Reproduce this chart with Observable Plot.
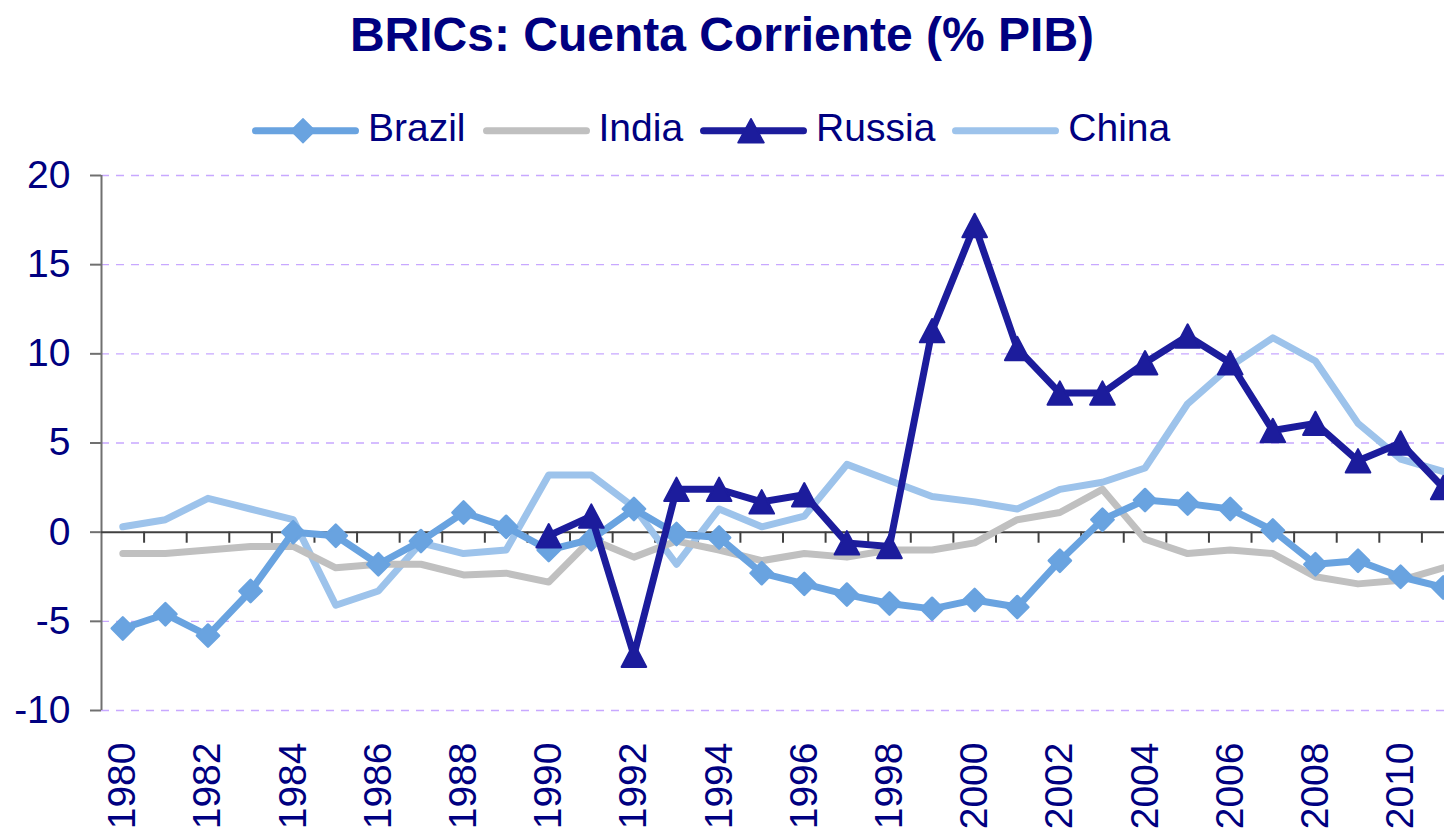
<!DOCTYPE html>
<html>
<head>
<meta charset="utf-8">
<script src="https://cdn.jsdelivr.net/npm/d3@7"></script>
<script src="https://cdn.jsdelivr.net/npm/@observablehq/plot@0.6"></script>
<style>
  html, body { margin: 0; padding: 0; background: #fff; overflow: hidden; }
  body { width: 1444px; height: 830px; font-family: "Liberation Sans", Arial, sans-serif; color: #000080; }
  #title { height: 70px; line-height: 70px; text-align: center; font-size: 48px; font-weight: bold; white-space: nowrap; }
  #legend { position: relative; height: 70px; }
  #legend .row { position: absolute; top: 38px; left: 252px; display: flex; white-space: nowrap; }
  #legend .lab { font-size: 39px; line-height: 40px; margin-left: 9px; margin-right: 17px; }
  #legend svg { display: block; }
</style>
</head>
<body>
<div id="title">BRICs: Cuenta Corriente (% PIB)</div>
<div id="legend"><div class="row" id="legrow"></div></div>
<div id="chart"></div>
<script>
// ---- data ----
const years = [1980,1981,1982,1983,1984,1985,1986,1987,1988,1989,1990,1991,1992,1993,1994,1995,
               1996,1997,1998,1999,2000,2001,2002,2003,2004,2005,2006,2007,2008,2009,2010,2011];
const brazil = [-5.4,-4.6,-5.8,-3.3,0.0,-0.2,-1.8,-0.5,1.1,0.3,-1.0,-0.4,1.3,-0.1,-0.3,-2.3,
                -2.9,-3.5,-4.0,-4.3,-3.8,-4.2,-1.6,0.7,1.8,1.6,1.3,0.1,-1.8,-1.6,-2.5,-3.1];
const india  = [-1.2,-1.2,-1.0,-0.8,-0.8,-2.0,-1.8,-1.8,-2.4,-2.3,-2.8,-0.4,-1.4,-0.5,-1.0,-1.6,
                -1.2,-1.4,-1.0,-1.0,-0.6,0.7,1.1,2.4,-0.4,-1.2,-1.0,-1.2,-2.5,-2.9,-2.7,-2.0];
const russia = [null,null,null,null,null,null,null,null,null,null,-0.2,0.9,-6.9,2.4,2.4,1.7,
                2.1,-0.6,-0.8,11.3,17.2,10.3,7.8,7.8,9.5,11.0,9.5,5.7,6.1,4.0,5.0,2.5];
const china  = [0.3,0.7,1.9,1.3,0.7,-4.1,-3.3,-0.6,-1.2,-1.0,3.2,3.2,1.4,-1.8,1.3,0.3,
                0.9,3.8,2.9,2.0,1.7,1.3,2.4,2.8,3.6,7.2,9.3,10.9,9.6,6.1,4.1,3.4];
const seriesNames = ["Brazil","India","Russia","China"];
const yTicks = [-10,-5,0,5,10,15,20];
const xTickYears = [1980,1982,1984,1986,1988,1990,1992,1994,1996,1998,2000,2002,2004,2006,2008,2010];

// ---- styles ----
const colors = {Brazil:"#69a3e0", India:"#c0c0c0", Russia:"#1c1c9c", China:"#9dc3eb"};
const navy = "#000080";

// triangle centred on its bounding box
const triBox = {
  draw(ctx, size) {
    const s = Math.sqrt(size);
    const hw = s * 0.58, hh = s * 0.55;
    ctx.moveTo(0, -hh); ctx.lineTo(hw, hh); ctx.lineTo(-hw, hh); ctx.closePath();
  }
};

const toRows = (name, vals) => years.map((y, i) => ({year: y, value: vals[i], series: name}))
                                    .filter(d => d.value != null);
const rows = {
  Brazil: toRows("Brazil", brazil),
  India: toRows("India", india),
  Russia: toRows("Russia", russia),
  China: toRows("China", china)
};
const boundaries = years.slice(0, -1).map(y => y + 0.5);
const grid = yTicks.filter(v => v !== 0);
const xDomain = [years[0] - 0.5, years[years.length - 1] + 0.5];

const lineOpts = (name) => ({x: "year", y: "value", stroke: colors[name], strokeWidth: 7,
                             strokeLinejoin: "round", strokeLinecap: "round"});

const chart = Plot.plot({
  width: 1444,
  height: 690,
  marginTop: 35,
  marginBottom: 120,
  marginLeft: 101,
  marginRight: 0,
  style: {fontFamily: "'Liberation Sans', Arial, sans-serif", background: "transparent"},
  x: {domain: xDomain, range: [101, 1464], label: null},
  y: {domain: [yTicks[0], yTicks[yTicks.length - 1]], label: null},
  marks: [
    Plot.ruleY(grid, {stroke: "#c8a8ff", strokeWidth: 1.3, strokeDasharray: "8,7"}),
    Plot.ruleX([xDomain[0]], {y1: yTicks[0], y2: yTicks[yTicks.length - 1], stroke: "#707070", strokeWidth: 2}),
    Plot.ruleY([0], {stroke: "#404040", strokeWidth: 2}),
    Plot.ruleX(boundaries, {y1: 0, y2: -0.62, stroke: "#404040", strokeWidth: 2}),
    Plot.axisY(yTicks, {tickSize: 11, tickPadding: 20, fontSize: 39, stroke: "#707070", strokeWidth: 2,
                        fill: navy, label: null, tickFormat: d => String(d)}),
    Plot.axisX(xTickYears, {anchor: "bottom", tickRotate: -90, tickSize: 0, tickPadding: 32, fontSize: 39,
                            fill: navy, label: null, tickFormat: d => String(d)}),
    Plot.line(rows.China, lineOpts("China")),
    Plot.line(rows.India, lineOpts("India")),
    Plot.line(rows.Brazil, lineOpts("Brazil")),
    Plot.dot(rows.Brazil, {x: "year", y: "value", symbol: "diamond2", r: 10, fill: colors.Brazil,
                           stroke: colors.Brazil, strokeWidth: 2.5, strokeLinejoin: "round"}),
    Plot.line(rows.Russia, lineOpts("Russia")),
    Plot.dot(rows.Russia, {x: "year", y: "value", symbol: triBox, r: 12, fill: colors.Russia,
                           stroke: colors.Russia, strokeWidth: 2, strokeLinejoin: "round"})
  ]
});
document.getElementById("chart").appendChild(chart);

// ---- legend ----
const legrow = document.getElementById("legrow");
const markerFor = {Brazil: "diamond", India: null, Russia: "triangle", China: null};
seriesNames.forEach(name => {
  const svg = d3.create("svg").attr("width", 107).attr("height", 40);
  svg.append("line").attr("x1", 3.5).attr("x2", 103.5).attr("y1", 22.7).attr("y2", 22.7)
     .attr("stroke", colors[name]).attr("stroke-width", 7).attr("stroke-linecap", "round");
  if (markerFor[name] === "diamond") {
    svg.append("path").attr("transform", "translate(51,22.7)")
       .attr("d", "M0,-12L12,0L0,12L-12,0Z").attr("fill", colors[name])
       .attr("stroke", colors[name]).attr("stroke-width", 1.5).attr("stroke-linejoin", "round");
  } else if (markerFor[name] === "triangle") {
    svg.append("path").attr("transform", "translate(51,22.7)")
       .attr("d", "M0,-12L13,12L-13,12Z").attr("fill", colors[name])
       .attr("stroke", colors[name]).attr("stroke-width", 1.5).attr("stroke-linejoin", "round");
  }
  legrow.appendChild(svg.node());
  const lab = document.createElement("span");
  lab.className = "lab";
  lab.textContent = name;
  legrow.appendChild(lab);
});
</script>
</body>
</html>
